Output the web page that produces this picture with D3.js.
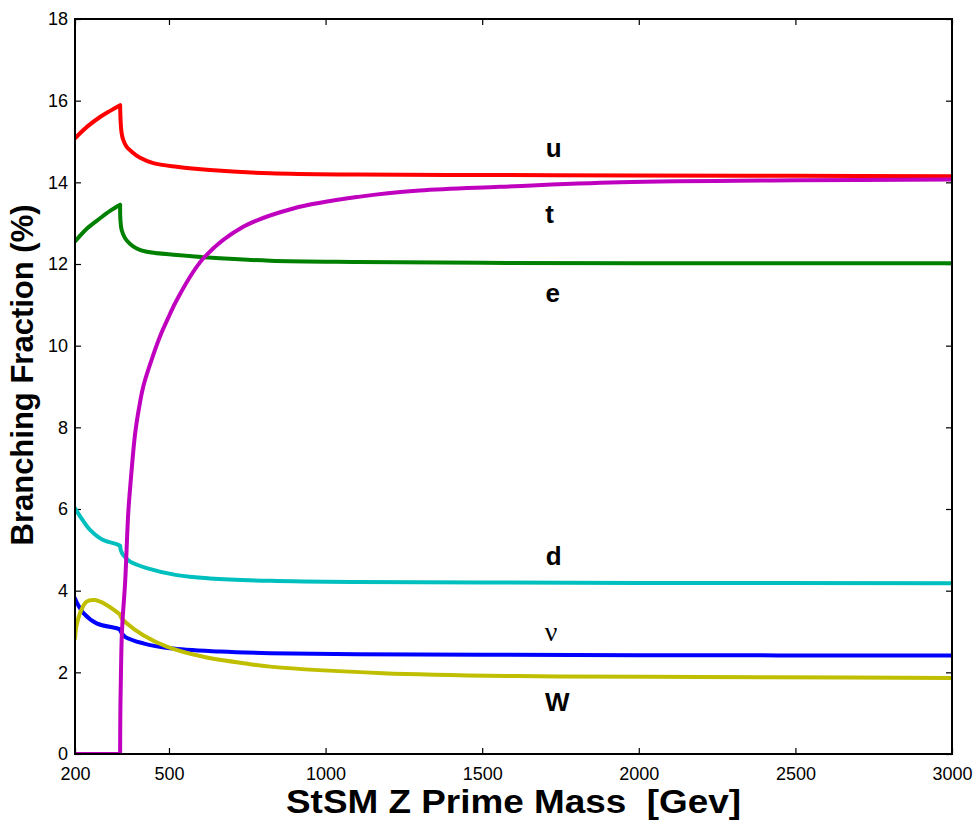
<!DOCTYPE html>
<html>
<head>
<meta charset="utf-8">
<script src="https://cdn.jsdelivr.net/npm/d3@7"></script>
<style>
  html, body { margin: 0; padding: 0; background: #fff; }
  svg { display: block; }
</style>
</head>
<body>
<svg id="chart" width="975" height="820"></svg>
<script>
// Branching fractions (%) of the StSM Z' versus its mass (GeV)
const xTicks = [200, 500, 1000, 1500, 2000, 2500, 3000];
const yTicks = [0, 2, 4, 6, 8, 10, 12, 14, 16, 18];

// top-pair threshold (GeV): every curve has a kink here
const ttThreshold = 344;

const massU = [200, 240, 280, 312, 344, 346, 349, 354, 365, 381, 408, 450, 525, 631, 823, 1100, 1557, 2000, 2500, 3000];
const brU   = [15.08, 15.37, 15.60, 15.75, 15.89, 15.45, 15.20, 15.04, 14.87, 14.75, 14.60, 14.47, 14.38, 14.30, 14.22, 14.19, 14.18, 14.17, 14.16, 14.15];

const massE = [200, 240, 280, 312, 344, 345, 349, 360, 376, 397, 429, 525, 663, 823, 1100, 1500, 2000, 3000];
const brE   = [12.55, 12.88, 13.12, 13.30, 13.45, 13.08, 12.83, 12.63, 12.49, 12.38, 12.30, 12.22, 12.14, 12.08, 12.05, 12.03, 12.02, 12.02];

const massT = [200, 344, 345, 347, 349, 352, 360, 370, 378, 392, 405, 418, 440, 471, 500, 525, 610, 737, 897, 1110, 1300, 1557, 1940, 2500, 3000];
const brT   = [0, 0, 1.2, 2.1, 2.8, 3.3, 4.2, 5.9, 6.7, 7.85, 8.5, 9.0, 9.55, 10.22, 10.72, 11.12, 12.14, 12.91, 13.36, 13.65, 13.80, 13.89, 14.00, 14.05, 14.07];

const massD = [200, 225, 248, 290, 333, 344, 346, 354, 376, 429, 525, 631, 823, 1100, 1500, 2000, 3000];
const brD   = [6.02, 5.72, 5.49, 5.24, 5.14, 5.10, 5.00, 4.87, 4.71, 4.55, 4.38, 4.30, 4.24, 4.21, 4.20, 4.19, 4.18];

const massNu = [200, 210, 227, 269, 333, 344, 346, 360, 418, 503, 663, 823, 1100, 1500, 2000, 3000];
const brNu   = [3.81, 3.65, 3.45, 3.20, 3.08, 3.05, 3.00, 2.87, 2.71, 2.59, 2.51, 2.47, 2.44, 2.43, 2.42, 2.41];

const massW = [200, 205, 216, 237, 264, 301, 338, 344, 346, 365, 418, 493, 610, 759, 823, 1183, 1611, 2036, 2419, 3000];
const brW   = [2.83, 3.15, 3.45, 3.73, 3.77, 3.65, 3.45, 3.42, 3.36, 3.20, 2.91, 2.63, 2.38, 2.20, 2.14, 1.98, 1.91, 1.89, 1.88, 1.86];

// drawing order: later series sit on top
const series = [
  { name: "u", mass: massU,  br: brU,  color: "#ff0000" },
  { name: "e", mass: massE,  br: brE,  color: "#008000" },
  { name: "d", mass: massD,  br: brD,  color: "#00bfbf" },
  { name: "ν", mass: massNu, br: brNu, color: "#0000ff" },
  { name: "W", mass: massW,  br: brW,  color: "#bfbf00" },
  { name: "t", mass: massT,  br: brT,  color: "#bf00bf" }
];

// curve labels: name, mass position, value position
const labelNames  = ["u", "t", "e", "d", "ν", "W"];
const labelMass   = [1728, 1715, 1725, 1728, 1720, 1740];
const labelValues = [14.62, 13.0, 11.07, 4.63, 2.77, 1.05];

const svg = d3.select("#chart");
const margin = { top: 19, right: 23, bottom: 66, left: 75 };
const W = 975 - margin.left - margin.right;
const H = 820 - margin.top - margin.bottom;
const g = svg.append("g").attr("transform", `translate(${margin.left},${margin.top})`);

const x = d3.scaleLinear().domain([200, 3000]).range([0, W]);
const y = d3.scaleLinear().domain([0, 18]).range([H, 0]);

const tickFont = "Liberation Sans, Arial, Helvetica, sans-serif";

function styleAxis(sel) {
  sel.select(".domain").remove();
  sel.selectAll(".tick line").attr("stroke", "#000").attr("stroke-width", 1.2);
  sel.selectAll("text").attr("font-size", 18).attr("font-family", tickFont).attr("fill", "#000");
}

g.append("g").attr("transform", `translate(0,${H})`)
  .call(d3.axisBottom(x).tickValues(xTicks).tickSizeInner(-6).tickSizeOuter(0).tickPadding(13).tickFormat(d3.format("d")))
  .call(styleAxis);
g.append("g")
  .call(d3.axisTop(x).tickValues(xTicks).tickSizeInner(-6).tickSizeOuter(0).tickFormat(""))
  .call(styleAxis);
g.append("g")
  .call(d3.axisLeft(y).tickValues(yTicks).tickSizeInner(-6).tickSizeOuter(0).tickPadding(7).tickFormat(d3.format("d")))
  .call(styleAxis);
g.append("g").attr("transform", `translate(${W},0)`)
  .call(d3.axisRight(y).tickValues(yTicks).tickSizeInner(-6).tickSizeOuter(0).tickFormat(""))
  .call(styleAxis);

// curves: smooth on each side of the threshold, sharp kink at it
const line = d3.line()
  .x(d => x(d[0]))
  .y(d => y(d[1]))
  .curve(d3.curveCatmullRom.alpha(0.5));

function curvePath(s) {
  const pts = d3.zip(s.mass, s.br);
  const below = pts.filter(p => p[0] <= ttThreshold);
  const above = pts.filter(p => p[0] >= ttThreshold);
  return line(below) + line(above);
}

g.append("defs").append("clipPath").attr("id", "plotClip")
  .append("rect").attr("x", 0).attr("y", -2).attr("width", W).attr("height", H + 2);

g.append("g").attr("clip-path", "url(#plotClip)")
  .selectAll("path")
  .data(series)
  .join("path")
  .attr("d", curvePath)
  .attr("fill", "none")
  .attr("stroke", s => s.color)
  .attr("stroke-width", 4)
  .attr("stroke-linejoin", "round")
  .attr("stroke-linecap", "round");

// frame
g.append("rect")
  .attr("x", 0).attr("y", 0).attr("width", W).attr("height", H)
  .attr("fill", "none").attr("stroke", "#000").attr("stroke-width", 2);

// curve labels
g.selectAll("text.curve-label")
  .data(labelNames)
  .join("text")
  .attr("class", "curve-label")
  .attr("x", (d, i) => x(labelMass[i]))
  .attr("y", (d, i) => y(labelValues[i]))
  .attr("text-anchor", "middle")
  .attr("font-family", d => d === "ν" ? "Liberation Serif, Times New Roman, serif" : tickFont)
  .attr("font-weight", d => d === "ν" ? "normal" : "bold")
  .attr("font-size", d => d === "ν" ? 28 : 26)
  .attr("fill", "#000")
  .text(d => d);

// axis titles
svg.append("text")
  .attr("x", margin.left + W / 2)
  .attr("y", 813)
  .attr("text-anchor", "middle")
  .attr("font-family", tickFont)
  .attr("font-weight", "bold")
  .attr("font-size", 32.5)
  .attr("textLength", 455)
  .attr("lengthAdjust", "spacingAndGlyphs")
  .attr("xml:space", "preserve")
  .text("StSM Z Prime Mass  [Gev]");

svg.append("text")
  .attr("transform", "translate(33,375) rotate(-90)")
  .attr("text-anchor", "middle")
  .attr("font-family", tickFont)
  .attr("font-weight", "bold")
  .attr("font-size", 31)
  .text("Branching Fraction (%)");
</script>
</body>
</html>
